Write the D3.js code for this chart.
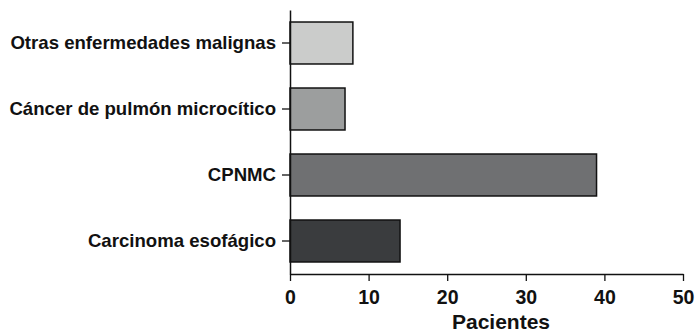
<!DOCTYPE html>
<html><head><meta charset="utf-8">
<script src="https://cdn.jsdelivr.net/npm/d3@7"></script>
<style>body{margin:0;background:#fff}svg{display:block}text{font-family:"Liberation Sans",Arial,Helvetica,sans-serif;font-weight:bold;fill:#111}</style>
</head><body><svg id="c" width="697" height="332"></svg>
<script>
const categories = ["Otras enfermedades malignas","Cáncer de pulmón microcítico","CPNMC","Carcinoma esofágico"];
const values = [8, 7, 39, 14];
const colors = ["#cbcccb","#9c9e9e","#6f7072","#3a3c3e"];
const xTicks = [0,10,20,30,40,50];
const xTitle = "Pacientes";

const svg = d3.select("#c");
const x = d3.scaleLinear().domain([0,50]).range([290,683]);
const y = d3.scaleBand().domain(categories).range([10,274]).paddingInner(0.364).paddingOuter(0.182);

svg.selectAll("rect.bar").data(categories).join("rect")
  .attr("class","bar")
  .attr("x", x(0))
  .attr("y", d=>y(d))
  .attr("width", (d,i)=>x(values[i])-x(0))
  .attr("height", y.bandwidth())
  .attr("fill",(d,i)=>colors[i])
  .attr("stroke","#111").attr("stroke-width",1.5);

const gx = svg.append("g").attr("transform","translate(0,274)")
  .call(d3.axisBottom(x).tickValues(xTicks).tickSize(7).tickPadding(9).tickSizeOuter(0));
gx.select(".domain").attr("stroke","#111").attr("stroke-width",1.5);
gx.selectAll(".tick line").attr("stroke","#111").attr("stroke-width",1.3);
gx.selectAll("text").style("font-size","19.5px").style("font-family","Liberation Sans, Arial, sans-serif").style("font-weight","bold").attr("fill","#111");

const gy = svg.append("g").attr("transform","translate(290,0)")
  .call(d3.axisLeft(y).tickSize(8).tickPadding(6).tickSizeOuter(0));
gy.select(".domain").attr("stroke","#111").attr("stroke-width",1.5);
gy.selectAll(".tick line").attr("stroke","#111").attr("stroke-width",1.3);
gy.selectAll("text").style("font-size","18.6px").style("font-family","Liberation Sans, Arial, sans-serif").style("font-weight","bold").attr("fill","#111");

svg.append("text").attr("x",501).attr("y",329).attr("text-anchor","middle")
  .style("font-size","21px").text(xTitle);
</script></body></html>
